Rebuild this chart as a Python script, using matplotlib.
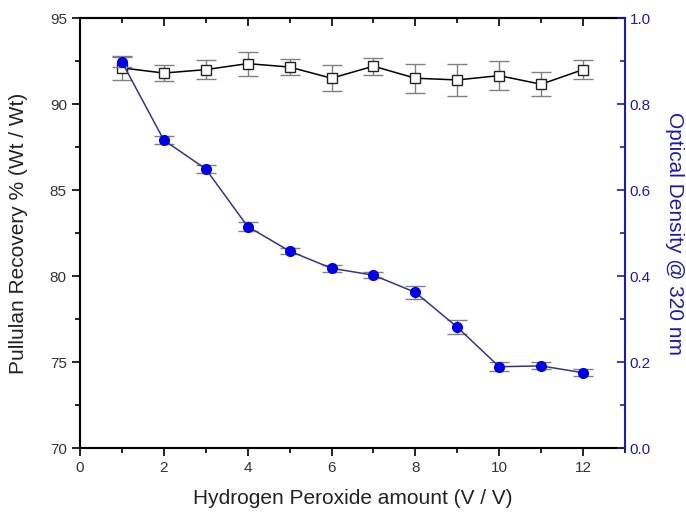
import numpy as np
import matplotlib
matplotlib.use("Agg")
from matplotlib import pyplot as plt
from matplotlib.ticker import MultipleLocator

plt.rcParams['font.family'] = ['Liberation Sans', 'DejaVu Sans']

# data
h2o2 = [1, 2, 3, 4, 5, 6, 7, 8, 9, 10, 11, 12]
recovery = [92.1, 91.8, 92.0, 92.35, 92.15, 91.5, 92.2, 91.5, 91.4, 91.65, 91.15, 92.0]
recovery_err = [0.7, 0.45, 0.55, 0.7, 0.45, 0.75, 0.5, 0.85, 0.95, 0.85, 0.7, 0.55]
od320 = [0.898, 0.716, 0.649, 0.515, 0.458, 0.418, 0.402, 0.362, 0.281, 0.189, 0.191, 0.175]
od320_err = [0.012, 0.01, 0.009, 0.01, 0.007, 0.008, 0.007, 0.015, 0.016, 0.01, 0.008, 0.008]

navy = "#1c1ca8"
err_grey = "#808080"

fig = plt.figure(figsize=(6.86, 5.12), dpi=100)
ax = fig.add_axes([0.1166, 0.125, 0.7944, 0.8398])
ax2 = ax.twinx()

ax.errorbar(h2o2, recovery, yerr=recovery_err, color="black", lw=1.1,
            marker="s", ms=7, mfc="white", mec="#222222", mew=1.0,
            ecolor=err_grey, elinewidth=1.0, capsize=7, capthick=1.0, zorder=3)

ax2.errorbar(h2o2, od320, yerr=od320_err, color="#34348a", lw=1.1,
             marker="o", ms=7, mfc="#0000e6", mec="#0000e6",
             ecolor=err_grey, elinewidth=1.0, capsize=7, capthick=1.0, zorder=3)

ax.set_xlim(0, 13)
ax.set_ylim(70, 95)
ax2.set_ylim(0, 1.0)

ax.xaxis.set_major_locator(MultipleLocator(2))
ax.xaxis.set_minor_locator(MultipleLocator(1))
ax.yaxis.set_major_locator(MultipleLocator(5))
ax.yaxis.set_minor_locator(MultipleLocator(2.5))
ax2.yaxis.set_major_locator(MultipleLocator(0.2))
ax2.yaxis.set_minor_locator(MultipleLocator(0.1))
ax2.yaxis.set_major_formatter(matplotlib.ticker.FormatStrFormatter("%.1f"))

ax.tick_params(axis="both", which="major", direction="out", length=6, width=1.2,
               labelsize=11, colors="black", labelcolor="#333333")
ax.tick_params(axis="both", which="minor", direction="out", length=3.5, width=1.2)
ax2.tick_params(axis="y", which="major", direction="in", length=6, width=1.2,
                labelsize=11, colors=navy, labelcolor=navy)
ax2.tick_params(axis="y", which="minor", direction="in", length=3.5, width=1.2, colors=navy)

top = ax.secondary_xaxis("top")
top.xaxis.set_major_locator(MultipleLocator(2))
top.xaxis.set_minor_locator(MultipleLocator(1))
top.tick_params(which="major", direction="in", length=6, width=1.2, labeltop=False)
top.tick_params(which="minor", direction="in", length=3.5, width=1.2)
top.spines["top"].set_linewidth(1.5)

for s in ["left", "bottom", "top"]:
    ax.spines[s].set_linewidth(1.5)
for s in ["left", "bottom", "top"]:
    ax2.spines[s].set_visible(False)
ax.spines["right"].set_visible(False)
ax2.spines["right"].set_color(navy)
ax2.spines["right"].set_linewidth(1.5)

ax.set_xlabel("Hydrogen Peroxide amount (V / V)", fontsize=15, color="#222222", labelpad=10)
ax.set_ylabel("Pullulan Recovery % (Wt / Wt)", fontsize=15, color="#222222", labelpad=16)
ax2.set_ylabel("Optical Density @ 320 nm", fontsize=15, color=navy, rotation=270, labelpad=24)

fig.savefig("out.png", dpi=100)
